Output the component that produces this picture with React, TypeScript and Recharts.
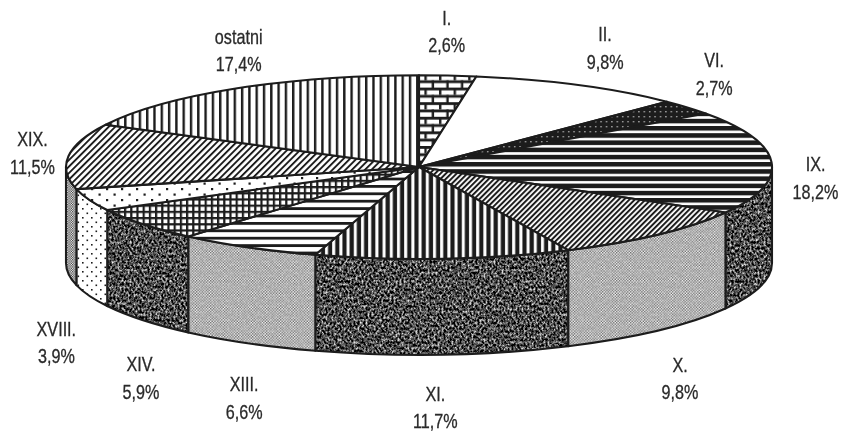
import React from 'react';
import { PieChart, Pie, Cell } from 'recharts';

const categories = ['I.', 'II.', 'VI.', 'IX.', 'X.', 'XI.', 'XIII.', 'XIV.', 'XVIII.', 'XIX.', 'ostatni'];
const shares = [2.6, 9.8, 2.7, 18.2, 9.8, 11.7, 6.6, 5.9, 3.9, 11.5, 17.4];

const topFills = ['brick', 'none', 'darkDots', 'hLinesDark', 'diagFine', 'vLinesDark', 'hLinesLight', 'grid', 'dotsWide', 'diagWide', 'vLinesLight'];
const wallFills = ['dark', 'dark', 'dark', 'dark', 'dither', 'dark', 'dither', 'dark', 'dotsFine', 'ditherFine', 'dark'];

// label shift from the rim point of each slice, hand placed in the original
const labelShift = [[-1, -45], [26, -38], [27, -34], [44, 15], [22, 47], [-8, 52], [-4, 54], [-2, 57], [-33, 46], [-36, -4], [3, -39]];

const data = categories.map((name, i) => ({ name, value: shares[i] }));

const INK = '#1c1c1c';
const SQUASH = 0.26;
const WALL = 96;
const RAD = Math.PI / 180;

const rim = (cx: number, cy: number, r: number, a: number) => [cx + r * Math.cos(a * RAD), cy - r * SQUASH * Math.sin(a * RAD)];

function TopSlice(props: any) {
  const { cx, cy, outerRadius: r, startAngle, endAngle, fill } = props;
  const [x1, y1] = rim(cx, cy, r, startAngle);
  const [x2, y2] = rim(cx, cy, r, endAngle);
  const large = Math.abs(startAngle - endAngle) > 180 ? 1 : 0;
  const d = `M${cx},${cy} L${x1},${y1} A${r},${r * SQUASH} 0 ${large} 1 ${x2},${y2} Z`;
  return <path d={d} fill={fill} stroke={INK} strokeWidth={2.1} strokeLinejoin="round" />;
}

// only the part of a slice facing the viewer gets a wall
function WallSlice(props: any) {
  const { cx, cy, outerRadius: r, startAngle, endAngle, fill } = props;
  const a1 = Math.min(startAngle, 0);
  const a2 = Math.max(endAngle, -180);
  if (a1 <= a2) return <g />;
  const [x1, y1] = rim(cx, cy, r, a1);
  const [x2, y2] = rim(cx, cy, r, a2);
  const ry = r * SQUASH;
  const d = `M${x1},${y1} A${r},${ry} 0 0 1 ${x2},${y2} L${x2},${y2 + WALL} A${r},${ry} 0 0 0 ${x1},${y1 + WALL} Z`;
  return <path d={d} fill={fill} stroke={INK} strokeWidth={2.1} strokeLinejoin="round" />;
}

function renderLabel(props: any) {
  const { cx, cy, outerRadius: r, midAngle, index, name, value } = props;
  const [x, y] = rim(cx, cy, r, midAngle);
  const below = Math.sin(midAngle * RAD) < -0.2;
  const [dx, dy] = labelShift[index];
  const px = x + dx;
  const py = y + (below ? WALL : 0) + dy - 6;
  // original type is a narrow grotesque, so squeeze the regular face
  return (
    <text transform={`translate(${px},${py}) scale(0.83,1)`} textAnchor="middle" fontFamily="Liberation Sans, Arial, sans-serif" fontSize={19.5} fill="#2a2a2a" stroke="#2a2a2a" strokeWidth={0.3} key={name}>
      <tspan x={0} y={0}>{name}</tspan>
      <tspan x={0} y={27.5}>{value.toFixed(1).replace('.', ',')}%</tspan>
    </text>
  );
}

function Patterns() {
  return (
    <defs>
      <filter id="noiseDark" x="0" y="0" width="100%" height="100%" colorInterpolationFilters="sRGB">
        <feTurbulence type="fractalNoise" baseFrequency="0.5 0.36" numOctaves={3} seed={7} />
        <feColorMatrix type="matrix" values="2.3 0 0 0 -0.8  2.3 0 0 0 -0.8  2.3 0 0 0 -0.8  0 0 0 0 1" />
      </filter>
      <pattern id="fineChecks" patternUnits="userSpaceOnUse" width={2.8} height={2.8}>
        <rect width={1.4} height={1.4} fill="#000" />
        <rect x={1.4} y={1.4} width={1.4} height={1.4} fill="#000" />
      </pattern>
      <pattern id="dark" patternUnits="userSpaceOnUse" width={842} height={433}>
        <rect width={842} height={433} filter="url(#noiseDark)" />
        <rect width={842} height={433} fill="url(#fineChecks)" opacity={0.3} />
      </pattern>
      <pattern id="dither" patternUnits="userSpaceOnUse" width={842} height={433}>
        <rect width={842} height={433} fill="#fff" />
        <rect width={842} height={433} fill="url(#fineChecks)" opacity={0.55} />
        <rect width={842} height={433} filter="url(#noiseDark)" opacity={0.1} />
      </pattern>
      <pattern id="ditherFine" patternUnits="userSpaceOnUse" width={2.4} height={2.4}>
        <rect width={2.4} height={2.4} fill="#fff" />
        <rect width={1.2} height={1.2} fill="#333" />
        <rect x={1.2} y={1.2} width={1.2} height={1.2} fill="#333" />
      </pattern>
      <pattern id="dotsFine" patternUnits="userSpaceOnUse" width={9} height={9}>
        <rect width={9} height={9} fill="#fff" />
        <rect x={1} y={1} width={1.6} height={1.6} fill={INK} />
        <rect x={5.5} y={5.5} width={1.6} height={1.6} fill={INK} />
      </pattern>
      <pattern id="dotsWide" patternUnits="userSpaceOnUse" width={15} height={11}>
        <rect width={15} height={11} fill="#fff" />
        <rect x={1} y={1} width={2.2} height={2.2} fill={INK} />
        <rect x={8.5} y={6.5} width={2.2} height={2.2} fill={INK} />
      </pattern>
      <pattern id="darkDots" patternUnits="userSpaceOnUse" width={5.4} height={5}>
        <rect width={5.4} height={5} fill={INK} />
        <rect x={1} y={1} width={1.4} height={1.4} fill="#aaa" />
      </pattern>
      <pattern id="brick" patternUnits="userSpaceOnUse" width={14.6} height={14.6}>
        <rect width={14.6} height={14.6} fill="#fff" />
        <rect y={0} width={14.6} height={2.8} fill={INK} />
        <rect y={7.3} width={14.6} height={2.8} fill={INK} />
        <rect x={1} y={0} width={2.4} height={7.3} fill={INK} />
        <rect x={8.3} y={7.3} width={2.4} height={7.3} fill={INK} />
      </pattern>
      <pattern id="hLinesDark" patternUnits="userSpaceOnUse" width={8} height={7.2}>
        <rect width={8} height={7.2} fill={INK} />
        <rect y={1} width={8} height={2.6} fill="#fff" />
      </pattern>
      <pattern id="hLinesLight" patternUnits="userSpaceOnUse" width={8} height={7.4}>
        <rect width={8} height={7.4} fill="#fff" />
        <rect width={8} height={2.8} fill={INK} />
      </pattern>
      <pattern id="vLinesDark" patternUnits="userSpaceOnUse" width={7.2} height={8}>
        <rect width={7.2} height={8} fill={INK} />
        <rect x={1} width={3} height={8} fill="#fff" />
      </pattern>
      <pattern id="vLinesLight" patternUnits="userSpaceOnUse" width={7.3} height={8}>
        <rect width={7.3} height={8} fill="#fff" />
        <rect width={2.4} height={8} fill={INK} />
      </pattern>
      <pattern id="grid" patternUnits="userSpaceOnUse" width={6.2} height={6.2}>
        <rect width={6.2} height={6.2} fill="#fff" />
        <rect width={6.2} height={2.2} fill={INK} />
        <rect width={2.2} height={6.2} fill={INK} />
      </pattern>
      <pattern id="diagFine" patternUnits="userSpaceOnUse" width={3.8} height={3.8} patternTransform="rotate(45)">
        <rect width={3.8} height={3.8} fill="#fff" />
        <rect width={2} height={3.8} fill={INK} />
      </pattern>
      <pattern id="diagWide" patternUnits="userSpaceOnUse" width={4.6} height={4.6} patternTransform="rotate(45)">
        <rect width={4.6} height={4.6} fill="#fff" />
        <rect width={1.9} height={4.6} fill={INK} />
      </pattern>
    </defs>
  );
}

const fillOf = (id: string) => (id === 'none' ? '#fff' : `url(#${id})`);

export default function App() {
  return (
    <div style={{ position: 'absolute', left: 0, top: 0, width: 842, height: 433, background: '#fff', filter: 'blur(0.45px)' }}>
      <PieChart width={842} height={433} margin={{ top: 0, right: 0, bottom: 0, left: 0 }}>
        {Patterns()}
        <Pie
          data={data}
          dataKey="value"
          cx={419}
          cy={167}
          outerRadius={353}
          startAngle={90}
          endAngle={-270}
          shape={WallSlice}
          activeShape={WallSlice}
          inactiveShape={WallSlice}
          isAnimationActive={false}
          label={false}
          labelLine={false}
        >
          {data.map((d, i) => <Cell key={d.name} fill={fillOf(wallFills[i])} />)}
        </Pie>
        <Pie
          data={data}
          dataKey="value"
          cx={419}
          cy={167}
          outerRadius={353}
          startAngle={90}
          endAngle={-270}
          shape={TopSlice}
          activeShape={TopSlice}
          inactiveShape={TopSlice}
          isAnimationActive={false}
          label={renderLabel}
          labelLine={false}
        >
          {data.map((d, i) => <Cell key={d.name} fill={fillOf(topFills[i])} />)}
        </Pie>
      </PieChart>
    </div>
  );
}
